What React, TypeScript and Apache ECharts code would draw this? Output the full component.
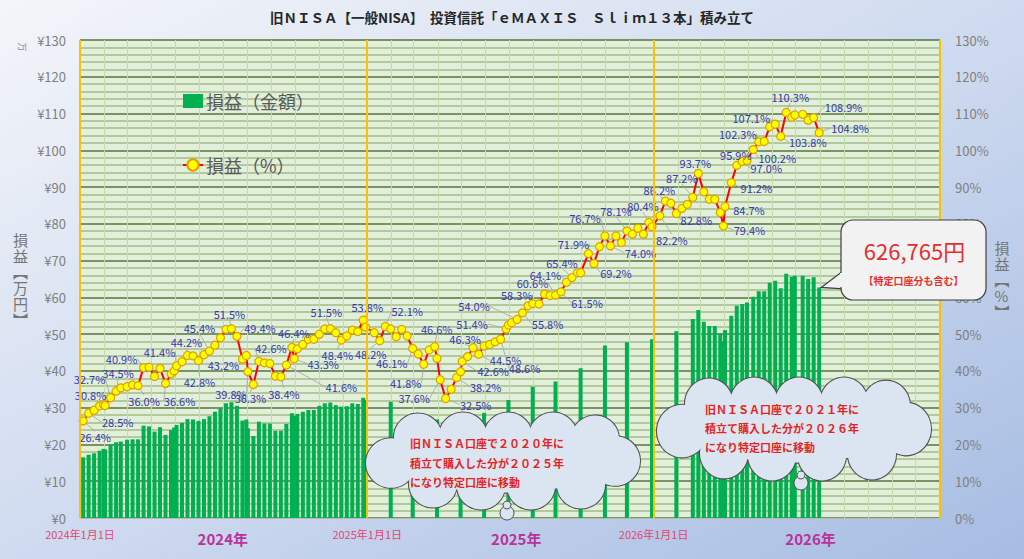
import React, { useEffect, useRef } from "react";
import * as echarts from "echarts";

const TITLE = "旧ＮＩＳＡ【一般NISA】　投資信託「ｅＭＡＸＩＳ　Ｓｌｉｍ１３本」積み立て";
const BAR_NAME = "損益（金額）";
const LINE_NAME = "損益（%）";

// weekly / month-end observation dates
const dates = [
  "2024-01-05","2024-01-12","2024-01-19","2024-01-26","2024-01-31","2024-02-02","2024-02-09","2024-02-16","2024-02-22","2024-03-01",
  "2024-03-08","2024-03-15","2024-03-22","2024-03-29","2024-04-05","2024-04-12","2024-04-19","2024-04-26","2024-04-30","2024-05-03",
  "2024-05-10","2024-05-17","2024-05-24","2024-05-31","2024-06-07","2024-06-14","2024-06-21","2024-06-28","2024-07-05","2024-07-12",
  "2024-07-19","2024-07-26","2024-07-31","2024-08-02","2024-08-09","2024-08-16","2024-08-23","2024-08-30","2024-09-06","2024-09-13",
  "2024-09-20","2024-09-27","2024-09-30","2024-10-04","2024-10-11","2024-10-18","2024-10-25","2024-11-01","2024-11-08","2024-11-15",
  "2024-11-22","2024-11-29","2024-12-06","2024-12-13","2024-12-20","2024-12-27","2024-12-30",
  "2025-01-10","2025-01-17","2025-01-24","2025-01-31","2025-02-07","2025-02-14","2025-02-21","2025-02-28","2025-03-07","2025-03-14",
  "2025-03-21","2025-03-28","2025-03-31","2025-04-04","2025-04-11","2025-04-18","2025-04-25","2025-04-30","2025-05-02","2025-05-09",
  "2025-05-16","2025-05-23","2025-05-30","2025-06-06","2025-06-13","2025-06-20","2025-06-27","2025-06-30","2025-07-04","2025-07-11",
  "2025-07-18","2025-07-25","2025-07-31","2025-08-08","2025-08-15","2025-08-22","2025-08-29","2025-09-05","2025-09-12","2025-09-19",
  "2025-09-26","2025-09-30","2025-10-10","2025-10-17","2025-10-24","2025-10-31","2025-11-07","2025-11-14","2025-11-21","2025-11-28",
  "2025-12-05","2025-12-12","2025-12-19","2025-12-26","2025-12-30",
  "2026-01-09","2026-01-16","2026-01-23","2026-01-30","2026-02-06","2026-02-13","2026-02-20","2026-02-27","2026-03-06","2026-03-13",
  "2026-03-20","2026-03-27","2026-03-31","2026-04-02","2026-04-10","2026-04-17","2026-04-24","2026-04-30","2026-05-08","2026-05-15",
  "2026-05-22","2026-05-29","2026-06-05","2026-06-12","2026-06-19","2026-06-26","2026-06-30","2026-07-10","2026-07-17","2026-07-24",
  "2026-07-31",
];

// 損益（%）
const pct = [
  26.4, 28.5, 29.3, 30.5, 30.8, 30.6, 32.7, 34.5, 35.4, 35.7,
  36.2, 36.0, 40.9, 41.0, 38.5, 40.7, 36.6, 39.2, 40.0, 41.4,
  42.5, 44.2, 44.1, 42.8, 44.4, 45.4, 47.0, 49.0, 51.3, 51.5,
  49.4, 43.2, 44.2, 39.8, 36.3, 42.6, 42.2, 42.0, 38.6, 38.4,
  41.6, 46.4, 43.3, 46.0, 47.2, 48.6, 48.6, 50.0, 51.4, 51.5,
  50.4, 48.4, 49.5, 51.1, 50.7, 53.8, 51.9,
  50.4, 48.2, 52.1, 51.4, 49.3, 51.3, 49.5, 46.1, 44.6, 41.8,
  45.7, 46.6, 43.4, 37.6, 32.5, 35.0, 38.2, 39.8, 42.6, 43.9,
  46.3, 44.5, 46.8, 47.2, 47.9, 48.6, 51.4, 52.5, 53.1, 54.0,
  55.8, 57.7, 58.3, 58.2, 60.9, 60.5, 60.6, 61.5, 64.1, 65.4,
  66.7, 66.7, 71.9, 69.2, 73.8, 76.7, 74.0, 76.7, 74.9, 78.1,
  77.2, 78.8, 77.2, 80.4, 79.2,
  82.2, 86.2, 85.6, 82.8, 84.2, 85.3, 87.2, 93.7, 88.7, 86.7,
  86.7, 83.1, 79.4, 84.7, 91.2, 95.9, 97.0, 97.2, 100.2, 102.3,
  102.4, 106.4, 107.1, 103.8, 110.3, 109.0, 109.6, 109.8, 108.2, 108.9,
  104.8,
];

// 損益（金額）in 万円 (null = no bar recorded)
const amount: (number | null)[] = [
  16.5, 17.2, 17.6, 18.3, 18.8, 18.6, 20.0, 20.6, 20.8, 21.3,
  21.4, 21.4, 25.1, 24.9, 23.5, 24.7, 22.6, 23.9, 24.6, 25.3,
  25.9, 26.9, 26.8, 26.4, 26.9, 27.7, 28.9, 29.8, 31.2, 31.5,
  30.5, 26.5, 26.8, 24.4, 22.3, 26.2, 25.7, 25.7, 23.7, 23.7,
  25.6, 28.5, 27.8, 28.3, 28.9, 29.4, 29.4, 30.5, 31.2, 31.4,
  30.7, 30.3, 30.4, 31.2, 31.0, 32.7, 32.1,
  null, null, null, 31.6, null, null, null, 28.5, null, null,
  null, null, 26.8, null, null, null, null, 24.2, null, null,
  null, null, 28.6, null, null, null, null, 32.1, null, null,
  null, null, 35.7, null, null, null, 37.1, null, null, null,
  null, 40.7, null, null, null, 46.9, null, null, null, 47.8,
  null, null, null, null, 48.6,
  null, null, null, 50.8, null, null, 54.1, 56.6, 53.4, 52.2,
  52.2, 50.2, 48.0, 51.1, 55.0, 57.7, 58.2, 58.6, 60.2, 61.7,
  61.7, 64.0, 64.5, 62.5, 66.4, 65.6, 65.9, 65.9, 65.0, 65.5,
  62.7,
];

const Y_MAX = 130;
const Y_INTERVAL = 10;

const X_MIN = "2024-01-01";
const X_MAX = "2027-01-01";
const yearBoundaries = ["2024-01-01", "2025-01-01", "2026-01-01", "2027-01-01"];
const axisLabelDates = ["2024-01-01", "2024-07-01", "2025-01-01", "2025-07-10", "2026-01-01", "2026-07-20"];

// label placement (label centre relative to the marker centre, px)
const labelOffsets: Record<string, [number, number]> = {
  "2024-01-05": [12, 16], "2024-01-12": [29, 9], "2024-01-31": [-13, -10], "2024-02-09": [-21, -19],
  "2024-02-16": [2, -18], "2024-03-15": [6, 15], "2024-03-22": [-22, -9], "2024-05-03": [-17, -14],
  "2024-04-19": [14, 18], "2024-05-17": [-1, -13], "2024-05-31": [1, 21], "2024-06-14": [-10, -23],
  "2024-07-26": [-19, 6], "2024-07-12": [-2, -15], "2024-08-02": [-17, 22], "2024-07-19": [23, -8],
  "2024-08-09": [-3, 13], "2024-08-16": [12, -13], "2024-09-13": [3, 17], "2024-09-27": [2, -14],
  "2024-09-30": [29, 5], "2024-09-20": [55, 22], "2024-11-15": [-4, -17], "2024-11-29": [-4, 15],
  "2024-12-27": [4, -13], "2025-01-17": [-9, 13], "2025-01-24": [22, -15], "2025-02-28": [-21, 15],
  "2025-03-14": [-18, 19], "2025-03-28": [2, -18], "2025-04-04": [-26, 18], "2025-04-11": [30, 6],
  "2025-05-16": [-8, -9], "2025-04-25": [29, 9], "2025-06-27": [-34, -5], "2025-05-02": [31, 10],
  "2025-07-11": [-43, -13], "2025-05-23": [27, 6], "2025-07-31": [-16, -9], "2025-06-20": [24, 29],
  "2025-07-18": [25, 11], "2025-08-29": [-23, -12], "2025-09-12": [-21, -7], "2025-09-05": [26, 11],
  "2025-09-19": [-10, -15], "2025-10-10": [-15, -10], "2025-10-17": [22, 9], "2025-10-31": [-20, -18],
  "2025-11-07": [30, 7], "2025-11-28": [-11, -20], "2025-12-26": [-6, -16], "2026-01-09": [12, 24],
  "2026-01-16": [-6, -11], "2026-02-20": [-11, -19], "2026-01-30": [20, 6], "2026-02-27": [-3, -10],
  "2026-03-31": [26, 4], "2026-04-02": [24, 3], "2026-04-10": [25, 5], "2026-04-17": [-1, -10],
  "2026-04-24": [24, 7], "2026-05-08": [24, 8], "2026-05-15": [-21, -8], "2026-06-05": [-24, -6],
  "2026-06-12": [27, 6], "2026-06-19": [4, -15], "2026-07-24": [30, -11], "2026-07-31": [31, -5],
};

const CALLOUT_VALUE = "626,765円";
const CALLOUT_NOTE = "【特定口座分も含む】";
const cloudTexts = [
  ["旧ＮＩＳＡ口座で２０２０年に", "積立て購入した分が２０２５年", "になり特定口座に移動"],
  ["旧ＮＩＳＡ口座で２０２１年に", "積立て購入した分が２０２６年", "になり特定口座に移動"],
];

const FONT = '"Noto Sans CJK JP", "Noto Sans", sans-serif';
const TOP_Z = 100;

const ts = (s: string) => {
  const [y, m, d] = s.split("-").map(Number);
  return new Date(y, m - 1, d).getTime();
};

const monthStarts: number[] = [];
for (let y = 2024; y <= 2026; y++) for (let m = 0; m < 12; m++) monthStarts.push(new Date(y, m, 1).getTime());
monthStarts.push(new Date(2027, 0, 1).getTime());

const BUMPS: [number, number, number][] = [
  [-112, 2, 25], [-85, -24, 24], [-40, -25, 24], [5, -25, 24], [50, -25, 24], [92, -22, 24],
  [112, 0, 25], [78, 24, 24], [28, 25, 24], [-22, 25, 24], [-70, 23, 24],
];

function cloud(cx: number, cy: number, sx: number, sy: number) {
  const fill = "#dbe4f1";
  const stroke = "#505050";
  const shapes = (withStroke: boolean) => [
    ...BUMPS.map(([x, y, r]) => ({
      type: "circle",
      z: TOP_Z,
      shape: { cx: x, cy: y, r },
      style: withStroke ? { fill, stroke, lineWidth: 2.2 } : { fill, stroke: null },
    })),
    {
      type: "ellipse",
      z: TOP_Z,
      shape: { cx: 0, cy: 0, rx: 105, ry: 32 },
      style: withStroke ? { fill, stroke, lineWidth: 2.2 } : { fill, stroke: null },
    },
  ];
  return { type: "group", z: TOP_Z, x: cx, y: cy, scaleX: sx, scaleY: sy, children: [...shapes(true), ...shapes(false)] };
}

function cloudTextGroup(x: number, y: number, lines: string[], gap: number) {
  return lines.map((t, i) => ({
    type: "text",
    z: TOP_Z + 1,
    x,
    y: y + i * gap,
    style: { text: t, fill: "#e32424", fontSize: 11, fontWeight: "bold", fontFamily: FONT, verticalAlign: "middle" },
  }));
}

function tail(x: number, y: number) {
  const st = { fill: "#dbe4f1", stroke: "#505050", lineWidth: 1 };
  return [
    { type: "circle", z: TOP_Z, shape: { cx: x, cy: y + 8, r: 7 }, style: st },
    { type: "circle", z: TOP_Z, shape: { cx: x, cy: y, r: 4 }, style: st },
  ];
}

export default function App() {
  const ref = useRef<HTMLDivElement>(null);

  useEffect(() => {
    if (!ref.current) return;
    const chart = echarts.init(ref.current, undefined, { renderer: "svg" });

    const barData = dates
      .map((d, i) => (amount[i] == null ? null : [ts(d), amount[i]]))
      .filter((v) => v != null);

    const lineData = dates.map((d, i) =>
      labelOffsets[d] ? { value: [ts(d), pct[i]], label: { show: true } } : { value: [ts(d), pct[i]] }
    );

    const option: any = {
      animation: false,
      backgroundColor: new echarts.graphic.LinearGradient(0, 0, 1, 1, [
        { offset: 0, color: "#f3f5f9" },
        { offset: 0.55, color: "#cbd8ee" },
        { offset: 1, color: "#a6bce2" },
      ]),
      textStyle: { fontFamily: FONT },
      title: {
        text: TITLE,
        left: "center",
        top: 5,
        textStyle: { fontSize: 13.5, fontWeight: "bold", color: "#262626", fontFamily: FONT },
      },
      legend: {
        orient: "vertical",
        left: 177,
        top: 87,
        itemGap: 46,
        itemWidth: 20,
        itemHeight: 14,
        textStyle: { fontSize: 18, color: "#595959", fontFamily: FONT, padding: [0, 0, 0, -2] },
        data: [
          { name: BAR_NAME, icon: "rect" },
          { name: LINE_NAME },
        ],
      },
      grid: {
        left: 80,
        right: 84,
        top: 40,
        bottom: 41,
        show: true,
        backgroundColor: "#e2efda",
        borderWidth: 0,
      },
      xAxis: {
        type: "value",
        min: ts(X_MIN),
        max: ts(X_MAX),
        axisLine: { show: true, lineStyle: { color: "#b8b8b8", width: 1 } },
        axisTick: { show: false, customValues: monthStarts },
        splitLine: { show: true, lineStyle: { color: "#c4dcac", width: 1 } },
        axisLabel: {
          customValues: axisLabelDates.map(ts),
          margin: 9,
          showMinLabel: true,
          showMaxLabel: true,
          formatter: (v: number) => {
            const d = new Date(v);
            if (d.getMonth() === 0 && d.getDate() === 1) {
              return `{a|${d.getFullYear()}年1月1日}`;
            }
            return `{b|${d.getFullYear()}年}`;
          },
          rich: {
            a: { fontSize: 11, color: "#e5456e", fontFamily: FONT, lineHeight: 14 },
            b: { fontSize: 15, color: "#b8339b", fontWeight: "bold", fontFamily: FONT, lineHeight: 16, padding: [7, 0, 0, 0] },
          },
        },
      },
      yAxis: [
        {
          type: "value",
          min: 0,
          max: Y_MAX,
          interval: Y_INTERVAL,
          name: "損\n益\n︻\n万\n円\n︼",
          nameLocation: "middle",
          nameGap: 52,
          nameRotate: 0,
          nameTextStyle: { color: "#767676", fontSize: 15, lineHeight: 16, fontFamily: FONT },
          axisLine: { show: false },
          axisTick: { show: false },
          axisLabel: { formatter: "¥{value}", color: "#7f7f7f", fontSize: 13, margin: 14, fontFamily: FONT },
          splitLine: { show: true, lineStyle: { color: "#56743a", width: 1.6 } },
          minorTick: { show: false, splitNumber: 5 },
          minorSplitLine: { show: true, lineStyle: { color: "#b3c99c", width: 1.8 } },
        },
        {
          type: "value",
          min: 0,
          max: Y_MAX,
          interval: Y_INTERVAL,
          position: "right",
          name: "損\n益\n︻\n%\n︼",
          nameLocation: "middle",
          nameGap: 52,
          nameRotate: 0,
          nameTextStyle: { color: "#767676", fontSize: 15, lineHeight: 16, fontFamily: FONT },
          axisLine: { show: false },
          axisTick: { show: false },
          axisLabel: { formatter: "{value}%", color: "#7f7f7f", fontSize: 13, margin: 15, fontFamily: FONT },
          splitLine: { show: false },
        },
      ],
      series: [
        {
          name: BAR_NAME,
          type: "bar",
          xAxisIndex: 0,
          yAxisIndex: 0,
          barWidth: 4,
          itemStyle: { color: "#00b050" },
          data: barData,
          z: 2,
          markLine: {
            silent: true,
            symbol: ["none", "none"],
            label: { show: false },
            lineStyle: { color: "#ffc000", width: 2, type: "solid" },
            data: yearBoundaries.map((d) => ({ xAxis: ts(d) })),
          },
        },
        {
          name: LINE_NAME,
          type: "line",
          xAxisIndex: 0,
          yAxisIndex: 1,
          data: lineData,
          symbol: "circle",
          symbolSize: 8,
          itemStyle: { color: "#ffff00", borderColor: "#e0a000", borderWidth: 1.2 },
          lineStyle: { color: "#ff0000", width: 2 },
          z: 4,
          label: {
            show: false,
            position: "inside",
            formatter: (p: any) => `${p.value[1].toFixed(1)}%`,
            color: "#3636b4",
            fontSize: 11,
            fontFamily: FONT,
          },
          labelLine: { show: true, lineStyle: { color: "#a2a2a2", width: 0.8 } },
          labelLayout: (params: any) => {
            const off = labelOffsets[dates[params.dataIndex]];
            if (!off || !params.rect) return {};
            const cx = params.rect.x + params.rect.width / 2;
            const cy = params.rect.y + params.rect.height / 2;
            return { x: cx + off[0], y: cy + off[1], align: "center", verticalAlign: "middle" };
          },
        },
      ],
    };

    chart.setOption(option);

    const lastIdx = amount.length - 1;
    const tip = chart.convertToPixel({ xAxisIndex: 0, yAxisIndex: 0 }, [ts(dates[lastIdx]), amount[lastIdx] as number]) as number[];
    const tipX = tip[0] + 2;
    const tipY = tip[1];

    const boxX = 841;
    const boxY = 220;
    const boxW = 145;
    const boxH = 80;

    chart.setOption({
      graphic: {
        elements: [
          {
            type: "text",
            z: TOP_Z,
            x: 22,
            y: 47,
            rotation: -Math.PI / 2,
            style: { text: "万", fill: "#8a8a8a", fontSize: 9, fontFamily: FONT, align: "center", verticalAlign: "middle" },
          },
          cloud(503, 461, 1, 0.99),
          ...tail(507, 505),
          ...cloudTextGroup(410, 443, cloudTexts[0], 19.5),
          cloud(794, 429, 1, 1.05),
          ...tail(801, 475),
          ...cloudTextGroup(705, 409, cloudTexts[1], 19),
          {
            type: "polygon",
            z: TOP_Z,
            shape: { points: [[boxX + 6, 268], [tipX, tipY], [boxX + 6, 289]] },
            style: { fill: "#f2f2f2", stroke: "#3f3f3f", lineWidth: 1.2 },
          },
          {
            type: "rect",
            z: TOP_Z + 1,
            shape: { x: boxX, y: boxY, width: boxW, height: boxH, r: 12 },
            style: { fill: "#f2f2f2", stroke: "#3f3f3f", lineWidth: 1.2 },
          },
          {
            type: "rect",
            z: TOP_Z + 2,
            shape: { x: boxX - 1, y: 273, width: 4, height: 14 },
            style: { fill: "#f2f2f2", stroke: null },
          },
          {
            type: "text",
            z: TOP_Z + 3,
            x: boxX + boxW / 2 + 1,
            y: 250,
            style: { text: CALLOUT_VALUE, fill: "#e3302f", fontSize: 22, fontFamily: FONT, align: "center", verticalAlign: "middle" },
          },
          {
            type: "text",
            z: TOP_Z + 3,
            x: boxX + boxW / 2,
            y: 280,
            style: { text: CALLOUT_NOTE, fill: "#e3302f", fontSize: 10, fontWeight: "bold", fontFamily: FONT, align: "center", verticalAlign: "middle" },
          },
        ],
      },
    });

    return () => chart.dispose();
  }, []);

  return <div ref={ref} style={{ position: "absolute", left: 0, top: 0, width: 1024, height: 559 }} />;
}
